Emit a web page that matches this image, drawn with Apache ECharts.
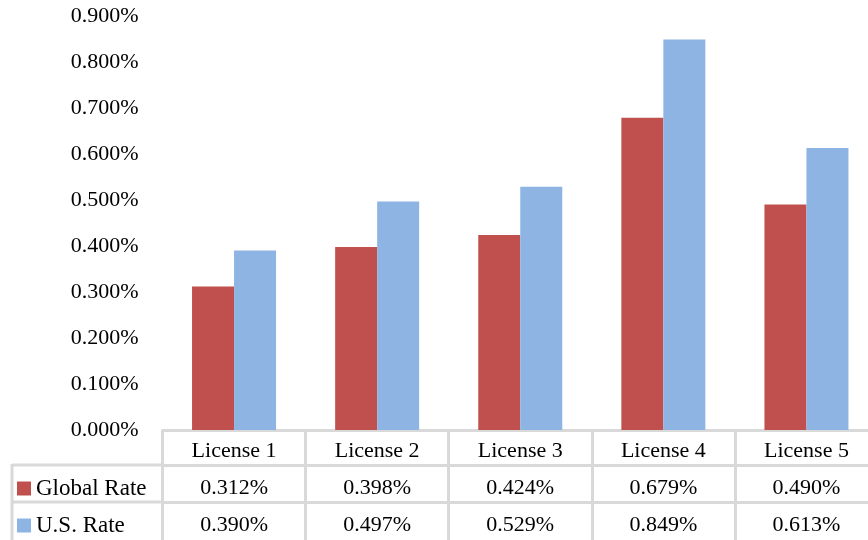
<!DOCTYPE html>
<html>
<head>
<meta charset="utf-8">
<script src="https://cdn.jsdelivr.net/npm/echarts@6/dist/echarts.min.js"></script>
<style>
  html, body { margin: 0; padding: 0; background: #fff; }
  #chart { width: 868px; height: 540px; }
</style>
</head>
<body>
<div id="chart"></div>
<script>
// License rates (in percent)
const categories = ['License 1', 'License 2', 'License 3', 'License 4', 'License 5'];
const globalRate = [0.312, 0.398, 0.424, 0.679, 0.490];
const usRate = [0.390, 0.497, 0.529, 0.849, 0.613];
const seriesNames = ['Global Rate', 'U.S. Rate'];

const FONT = '"Liberation Serif", "Times New Roman", serif';
const BORDER = '#d9d9d9';
const RED = '#c0504d';
const BLUE = '#8db4e2';
const fmt = v => v.toFixed(3) + '%';

const chart = echarts.init(document.getElementById('chart'), null, { renderer: 'canvas' });

// one row of the data table under the category axis
const tableRowAxis = (data, offset) => ({
  type: 'category',
  data: data,
  position: 'bottom',
  offset: offset,
  axisLine: { show: true, lineStyle: { color: BORDER, width: 3 } },
  axisTick: { show: false },
  axisLabel: { margin: 12, color: '#000', fontFamily: FONT, fontSize: 22, interval: 0 }
});

const legendBox = (name, top) => ({
  data: [name], left: 17, top: top, padding: 0, orient: 'vertical',
  icon: 'rect', itemWidth: 14, itemHeight: 14, selectedMode: false,
  textStyle: { fontFamily: FONT, fontSize: 23, color: '#000' }
});

chart.setOption({
  animation: false,
  backgroundColor: '#fff',
  grid: {
    left: 162.5, top: 16, right: -10, bottom: 110,
    containLabel: false, outerBoundsMode: 'none'
  },
  legend: [legendBox(seriesNames[0], 477), legendBox(seriesNames[1], 514)],
  xAxis: [
    {
      type: 'category',
      data: categories,
      position: 'bottom',
      axisLine: { show: true, lineStyle: { color: BORDER, width: 3 } },
      axisTick: { show: true, length: 110, lineStyle: { color: BORDER, width: 3 } },
      axisLabel: { margin: 10, color: '#000', fontFamily: FONT, fontSize: 22, interval: 0 }
    },
    tableRowAxis(globalRate.map(fmt), 35),
    tableRowAxis(usRate.map(fmt), 72)
  ],
  yAxis: {
    type: 'value',
    min: 0,
    max: 0.9,
    interval: 0.1,
    axisLine: { show: false },
    axisTick: { show: false },
    splitLine: { show: false },
    axisLabel: { margin: 24, color: '#000', fontFamily: FONT, fontSize: 22, formatter: fmt }
  },
  graphic: [
    { type: 'line', shape: { x1: 12, y1: 465, x2: 163, y2: 465 }, style: { stroke: BORDER, lineWidth: 3 } },
    { type: 'line', shape: { x1: 12, y1: 502, x2: 163, y2: 502 }, style: { stroke: BORDER, lineWidth: 3 } },
    { type: 'line', shape: { x1: 12, y1: 464, x2: 12, y2: 540 }, style: { stroke: BORDER, lineWidth: 3 } }
  ],
  series: [
    {
      name: seriesNames[0], type: 'bar', data: globalRate, xAxisIndex: 0,
      barWidth: 42, barGap: '0%', itemStyle: { color: RED }
    },
    {
      name: seriesNames[1], type: 'bar', data: usRate, xAxisIndex: 0,
      barWidth: 42, barGap: '0%', itemStyle: { color: BLUE }
    }
  ]
});
</script>
</body>
</html>
